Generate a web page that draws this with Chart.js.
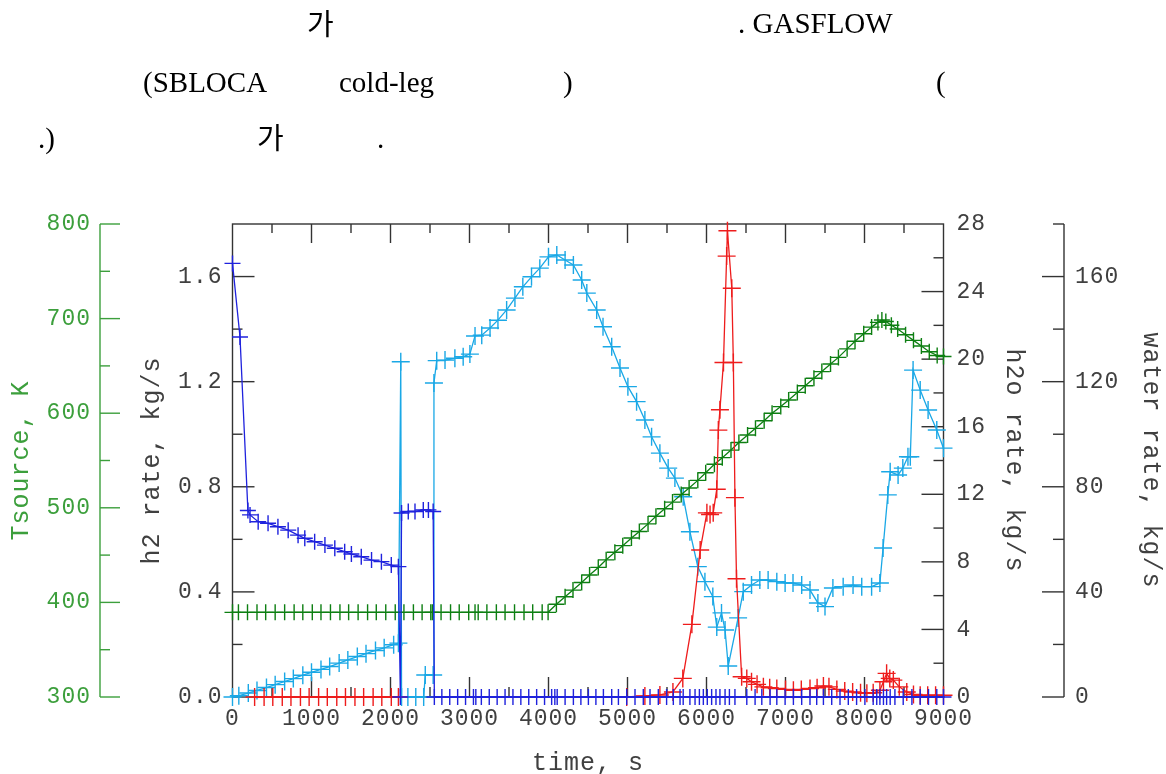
<!DOCTYPE html>
<html>
<head>
<meta charset="utf-8">
<script src="https://cdn.jsdelivr.net/npm/chart.js@4.4.0/dist/chart.umd.min.js"></script>
<style>
body { margin: 0; background: #fff; }
#wrap { position: relative; width: 1166px; height: 774px; overflow: hidden; }
#wrap canvas { position: absolute; left: 0; top: 0; }
.t { position: absolute; font-family: "Liberation Serif", serif; font-size: 29px; line-height: 29px; color: #000; white-space: pre; }
.k { font-family: "Noto Sans CJK KR", sans-serif; }
</style>
</head>
<body>
<div id="wrap">
<canvas id="myChart" width="1166" height="774"></canvas>
<div class="t k" style="left:307px;top:8px">가</div>
<div class="t" style="left:738px;top:9px">. GASFLOW</div>
<div class="t" style="left:143px;top:68px">(SBLOCA</div>
<div class="t" style="left:339px;top:68px">cold-leg</div>
<div class="t" style="left:563px;top:68px">)</div>
<div class="t" style="left:936px;top:68px">(</div>
<div class="t" style="left:38px;top:124px">.)</div>
<div class="t k" style="left:257px;top:122px">가</div>
<div class="t" style="left:377px;top:124px">.</div>
</div>
<script>
// tick labels
const xTicks = [0, 1000, 2000, 3000, 4000, 5000, 6000, 7000, 8000, 9000];
const h2Ticks = [0, 0.4, 0.8, 1.2, 1.6];
const h2oTicks = [0, 4, 8, 12, 16, 20, 24, 28];
const waterTicks = [0, 40, 80, 120, 160];
const tsrcTicks = [300, 400, 500, 600, 700, 800];

// h2 rate (kg/s), blue
const blueT = [0, 95, 195, 222, 325, 450, 575, 705, 830, 915,
  1040, 1170, 1295, 1420, 1505, 1630, 1760, 1885, 2010, 2100,
  2125, 2140, 2225, 2310, 2415, 2480, 2540,
  2555, 2650, 2750, 2850, 2950, 3050, 3080, 3150, 3250, 3350,
  3450, 3550, 3650, 3750, 3850, 3950, 4040, 4080, 4110, 4210,
  4315, 4410, 4505, 4600, 4695, 4800, 4885, 4990, 5095, 5200,
  5285, 5390, 5495, 5580, 5665, 5705, 5790, 5855, 5910, 5960,
  6010, 6065, 6120, 6170, 6235, 6290, 6360, 6510, 6615, 6700,
  6805, 6890, 6995, 7100, 7205, 7310, 7395, 7480, 7585, 7690,
  7795, 7900, 8005, 8110, 8155, 8195, 8240, 8280, 8325, 8385,
  8490, 8600, 8705, 8810, 8915, 9000];
const blueV = [1.65, 1.37, 0.71, 0.693, 0.667, 0.661, 0.648, 0.635, 0.616, 0.604,
  0.591, 0.578, 0.566, 0.553, 0.544, 0.534, 0.521, 0.515, 0.502, 0.496,
  0, 0.70, 0.706, 0.706, 0.712, 0.712, 0.706,
  0, 0, 0, 0, 0, 0, 0, 0, 0, 0,
  0, 0, 0, 0, 0, 0, 0, 0, 0, 0,
  0, 0, 0, 0, 0, 0, 0, 0, 0, 0,
  0, 0, 0, 0, 0, 0, 0, 0, 0, 0,
  0, 0, 0, 0, 0, 0, 0, 0, 0, 0,
  0, 0, 0, 0, 0, 0, 0, 0, 0, 0,
  0, 0, 0, 0, 0, 0, 0, 0, 0, 0,
  0, 0, 0, 0, 0, 0];

// h2o rate (kg/s), red
const redT = [280, 400, 510, 630, 740, 860, 970, 1090, 1200, 1320,
  1430, 1550, 1660, 1780, 1890, 2010, 2100, 2300, 4990, 5220,
  5410, 5575, 5700, 5815, 5920, 6005, 6045, 6085, 6130, 6150,
  6170, 6215, 6255, 6265, 6320, 6340, 6360, 6380, 6445, 6510,
  6570, 6640, 6720, 6800, 6890, 7000, 7100, 7200, 7310, 7400,
  7480, 7550, 7650, 7750, 7850, 7950, 8030, 8110, 8195, 8240,
  8280, 8320, 8365, 8440, 8535, 8620, 8705, 8800, 8900, 9000];
const redV = [0, 0, 0, 0, 0, 0, 0, 0, 0, 0,
  0, 0, 0, 0, 0, 0, 0, null, 0, 0.06,
  0.12, 0.3, 1.1, 4.3, 8.7, 10.9, 10.8, 10.9, 12.3, 15.8,
  17.0, 19.8, 26.1, 27.6, 24.2, 19.8, 11.8, 7.0, 1.2, 1.1,
  0.9, 0.75, 0.6, 0.55, 0.5, 0.45, 0.4, 0.45, 0.5, 0.55,
  0.65, 0.6, 0.45, 0.35, 0.3, 0.25, 0.22, 0.25, 0.4, 0.9,
  1.4, 1.1, 1.0, 0.6, 0.3, 0.15, 0.1, 0.1, 0.1, 0.1];

// Tsource (K), green
const greenT = [0, 75, 190, 310, 420, 540, 660, 780, 890, 1010,
  1120, 1240, 1360, 1470, 1590, 1710, 1820, 1940, 2060, 2170,
  2290, 2400, 2510, 2530, 2640, 2760, 2870, 2990, 3070, 3110,
  3220, 3340, 3450, 3570, 3690, 3800, 3920, 3995, 4100, 4210,
  4310, 4420, 4520, 4630, 4730, 4840, 4940, 5050, 5150, 5260,
  5360, 5470, 5570, 5680, 5780, 5890, 5990, 6100, 6200, 6310,
  6410, 6520, 6620, 6730, 6830, 6940, 7040, 7150, 7250, 7360,
  7460, 7570, 7670, 7780, 7880, 7990, 8090, 8170, 8220, 8270,
  8340, 8420, 8520, 8620, 8720, 8820, 8920, 9000];
const greenV = [389.5, 389.5, 389.5, 389.5, 389.5, 389.5, 389.5, 389.5, 389.5, 389.5,
  389.5, 389.5, 389.5, 389.5, 389.5, 389.5, 389.5, 389.5, 389.5, 389.5,
  389.5, 389.5, 389.5, 389.5, 389.5, 389.5, 389.5, 389.5, 389.5, 389.5,
  389.5, 389.5, 389.5, 389.5, 389.5, 389.5, 389.5, 389.5, 398, 406,
  413, 421, 429, 437, 445, 453, 460, 468, 475, 483,
  491, 499, 506, 514, 521, 529, 537, 546, 553, 561,
  569, 577, 584, 592, 600, 607, 614, 622, 629, 637,
  644, 652, 659, 668, 676, 684, 691, 696, 698.5, 697,
  693, 689, 683, 677, 671, 665, 661, 660];

// water rate (kg/s), cyan
const cyanT = [0, 80, 200, 310, 430, 540, 660, 770, 890, 1000,
  1120, 1230, 1350, 1460, 1580, 1690, 1810, 1920, 2040, 2100,
  2130, 2140, 2220, 2320, 2420, 2440, 2540, 2550, 2585, 2690,
  2815, 2920, 3005, 3070, 3155, 3260, 3360, 3470, 3575, 3675,
  3785, 3890, 4000, 4105, 4210, 4315, 4420, 4485, 4610, 4690,
  4800, 4905, 5005, 5115, 5220, 5305, 5410, 5515, 5600, 5705,
  5790, 5890, 5980, 6080, 6130, 6190, 6235, 6275, 6400, 6465,
  6570, 6675, 6780, 6890, 6995, 7095, 7205, 7310, 7410, 7500,
  7600, 7730, 7855, 7965, 8090, 8195, 8235, 8295, 8325, 8425,
  8485, 8550, 8580, 8615, 8705, 8805, 8915, 9000];
const cyanV = [0, 0.5, 1.5, 2.5, 3.6, 4.7, 5.9, 7.0, 8.3, 9.4,
  10.5, 11.6, 12.9, 14.1, 15.4, 16.5, 17.7, 18.7, 19.9, 20.5,
  127.6, 0, 0, 0, 0, 8.4, 8.4, 119.5, 128.0, 128.2,
  128.9, 129.5, 130.5, 137.4, 137.7, 140.4, 143.4, 147.3, 151.8, 156.1,
  159.9, 163.2, 167.5, 168.2, 166.3, 164.4, 158.7, 153.7, 147.3, 140.9,
  133.3, 125.2, 118.1, 112.4, 105.4, 99.0, 92.8, 87.1, 83.3, 76.2,
  62.9, 49.6, 43.9, 38.2, 26.6, 32.0, 25.5, 11.8, 30.1, 40.1,
  42.6, 44.5, 44.5, 43.9, 43.4, 43.4, 42.6, 40.7, 35.8, 34.4,
  41.5, 42.0, 42.6, 42.0, 42.0, 43.4, 56.7, 76.9, 85.7, 84.5,
  87.1, 91.4, 91.4, 124.4, 116.8, 109.2, 101.6, 94.7];

const ink = '#404040';
const axisGreen = '#3c9f3c';

function pts(ts, vs) {
  return ts.map((t, i) => ({ x: t, y: vs[i] }));
}

function series(label, ts, vs, axis, color, r) {
  return {
    label: label,
    data: pts(ts, vs),
    yAxisID: axis,
    borderColor: color,
    borderWidth: 1.3,
    tension: 0,
    pointStyle: 'cross',
    pointRadius: r,
    pointHoverRadius: r,
    pointBorderColor: color,
    pointBorderWidth: 1.4,
    clip: false,
  };
}

// wider glyph spacing, like the old plotting font
const spacing = {
  id: 'spacing',
  beforeLayout(chart) { chart.ctx.letterSpacing = '1px'; },
  beforeDraw(chart) { chart.ctx.letterSpacing = '1px'; },
};

// frame, inward ticks and the two detached axes
const frameTicks = {
  id: 'frameTicks',
  beforeDatasetsDraw(chart) {
    const { ctx, chartArea: a, scales: s } = chart;
    const line = (x1, y1, x2, y2) => {
      ctx.beginPath(); ctx.moveTo(x1, y1); ctx.lineTo(x2, y2); ctx.stroke();
    };
    ctx.save();
    ctx.lineWidth = 1.4;
    ctx.strokeStyle = '#333';
    ctx.strokeRect(a.left, a.top, a.right - a.left, a.bottom - a.top);
    for (let v = 500; v < 9000; v += 500) {
      const px = s.x.getPixelForValue(v);
      const big = v % 1000 === 0;
      line(px, a.bottom, px, a.bottom - (big ? 20 : 10));
      line(px, a.top, px, a.top + (big ? 19 : 9));
    }
    for (let k = 1; k < 9; k++) {
      const py = s.h2.getPixelForValue(k * 0.2);
      line(a.left, py, a.left + (k % 2 === 0 ? 22 : 10), py);
    }
    for (let v = 2; v < 28; v += 2) {
      const py = s.h2o.getPixelForValue(v);
      line(a.right, py, a.right - (v % 4 === 0 ? 22 : 10), py);
    }
    // water rate axis
    const wx = s.water.left + 29;
    line(wx, s.water.getPixelForValue(0), wx, s.water.getPixelForValue(180));
    for (let v = 0; v <= 180; v += 20) {
      const py = s.water.getPixelForValue(v);
      line(wx, py, wx - (v % 40 === 0 ? 22 : 11), py);
    }
    // Tsource axis
    ctx.strokeStyle = axisGreen;
    const tx = s.tsrc.right - 20;
    line(tx, s.tsrc.getPixelForValue(300), tx, s.tsrc.getPixelForValue(800));
    for (let v = 300; v <= 800; v += 50) {
      const py = s.tsrc.getPixelForValue(v);
      line(tx, py, tx + (v % 100 === 0 ? 20 : 10), py);
    }
    ctx.restore();
  },
};

Chart.defaults.font.family = '"Liberation Mono", monospace';
Chart.defaults.color = ink;

const tickFont = { size: 23 };
const titleFont = { size: 25 };

function yAxis(pos, weight, min, max, list, width, pad, title, tpad, fmt, color) {
  return {
    type: 'linear',
    position: pos,
    weight: weight,
    min: min,
    max: max,
    grid: { display: false, drawTicks: false },
    border: { display: false },
    afterBuildTicks: (sc) => { sc.ticks = list.map((v) => ({ value: v })); },
    afterFit: (sc) => { sc.width = width; },
    ticks: { font: tickFont, padding: pad, color: color, callback: fmt },
    title: { display: true, text: title, font: titleFont, color: color, padding: { top: tpad, bottom: 0 } },
  };
}

const ctx = document.getElementById('myChart').getContext('2d');
const myChart = new Chart(ctx, {
  type: 'line',
  data: {
    datasets: [
      series('h2 rate', blueT, blueV, 'h2', '#1f22dd', 8),
      series('h2o rate', redT, redV, 'h2o', '#ee1c1c', 9),
      series('Tsource', greenT, greenV, 'tsrc', '#0d7f12', 8),
      series('water rate', cyanT, cyanV, 'water', '#1aa8e6', 9),
    ],
  },
  options: {
    responsive: false,
    devicePixelRatio: 1,
    animation: false,
    events: [],
    layout: { padding: { top: 224, left: 0, right: 0, bottom: 0 } },
    plugins: { legend: { display: false }, tooltip: { enabled: false } },
    scales: {
      x: {
        type: 'linear',
        position: 'bottom',
        min: 0,
        max: 9000,
        grid: { display: false, drawTicks: false },
        border: { display: false },
        afterBuildTicks: (sc) => { sc.ticks = xTicks.map((v) => ({ value: v })); },
        afterFit: (sc) => { sc.height = 77; },
        ticks: { font: tickFont, padding: 8, autoSkip: false, maxRotation: 0, callback: (v) => String(v) },
        title: { display: true, text: 'time, s', font: titleFont, padding: { top: 0, bottom: -4 } },
      },
      h2: yAxis('left', 0, 0, 1.8, h2Ticks, 112.5, 10, 'h2 rate, kg/s', 17, (v) => v.toFixed(1), ink),
      tsrc: yAxis('left', 1, 300, 800, tsrcTicks, 120, 29, 'Tsource, K', 6, (v) => String(v), axisGreen),
      h2o: yAxis('right', 0, 0, 28, h2oTicks, 91.5, 13, 'h2o rate, kg/s', 6, (v) => String(v), ink),
      water: yAxis('right', 1, 0, 180, waterTicks, 131, 40, 'water rate, kg/s', 0, (v) => String(v), ink),
    },
  },
  plugins: [spacing, frameTicks],
});
</script>
</body>
</html>
